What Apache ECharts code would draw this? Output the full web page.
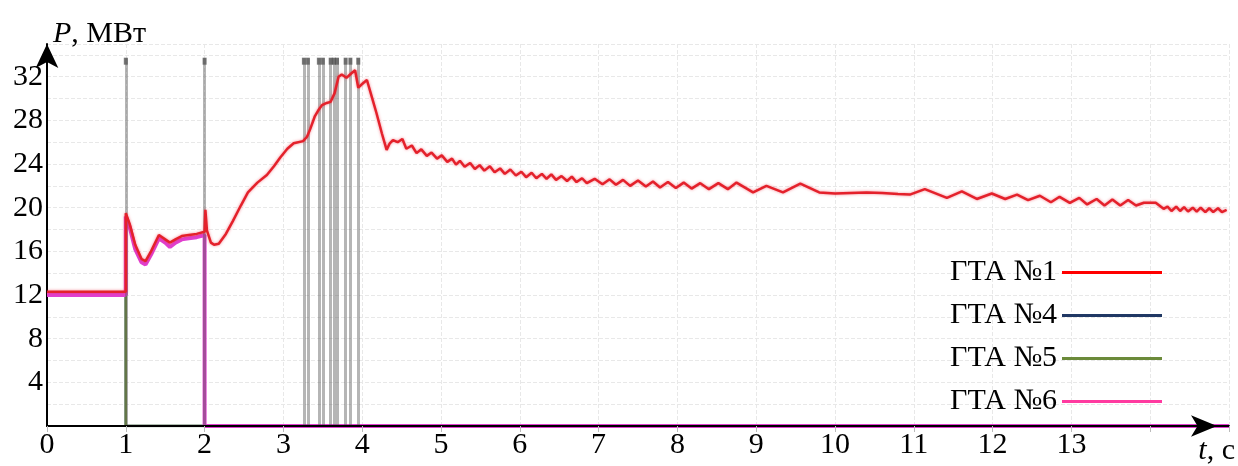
<!DOCTYPE html>
<html>
<head>
<meta charset="utf-8">
<script src="https://cdn.jsdelivr.net/npm/echarts@6/dist/echarts.min.js"></script>
<style>
html,body{margin:0;padding:0;background:#fff;}
#chart{width:1238px;height:466px;}
</style>
</head>
<body>
<div id="chart"></div>
<script>
// ---- data ----
const seriesNames = ['ГТА №1', 'ГТА №4', 'ГТА №5', 'ГТА №6'];
const xTickLabels = [0,1,2,3,4,5,6,7,8,9,10,11,12,13];
const yTickLabels = [4,8,12,16,20,24,28,32];

// ГТА №1 (t, P)
const gta1 = [[0,12.3],[1.0,12.3],[1.0,19.5],[1.05,18.5],[1.12,16.6],[1.2,15.3],[1.25,15.1],[1.32,16.0],[1.42,17.5],[1.5,17.1],[1.56,16.8],[1.63,17.1],[1.71,17.4],[1.8,17.5],[1.9,17.6],[2.0,17.8],[2.01,19.8],[2.03,17.9],[2.08,16.8],[2.12,16.6],[2.18,16.7],[2.27,17.6],[2.36,18.8],[2.46,20.2],[2.55,21.4],[2.67,22.3],[2.79,23.0],[2.88,23.8],[2.96,24.6],[3.05,25.4],[3.13,25.9],[3.25,26.1],[3.30,26.5],[3.34,27.2],[3.40,28.4],[3.45,29.0],[3.49,29.4],[3.55,29.6],[3.60,29.7],[3.65,30.5],[3.70,32.0],[3.74,32.2],[3.80,31.9],[3.86,32.3],[3.91,32.6],[3.95,31.0],[4.01,31.4],[4.06,31.7],[4.12,30.2],[4.18,28.7],[4.25,26.8],[4.31,25.3],[4.35,25.9],[4.39,26.2],[4.45,26.0],[4.51,26.3],[4.56,25.4],[4.63,25.7],[4.69,25.0],[4.75,25.35],[4.82,24.75],[4.88,25.05],[4.95,24.5],[5.01,24.8],[5.08,24.2],[5.14,24.5],[5.19,23.95],[5.24,24.3],[5.30,23.75],[5.37,24.1],[5.43,23.55],[5.49,23.9],[5.55,23.4],[5.62,23.8],[5.68,23.25],[5.75,23.6],[5.81,23.1],[5.88,23.5],[5.95,22.95],[6.02,23.3],[6.08,22.8],[6.15,23.2],[6.21,22.7],[6.28,23.1],[6.34,22.65],[6.40,23.05],[6.46,22.55],[6.53,22.9],[6.60,22.45],[6.66,22.85],[6.72,22.35],[6.79,22.7],[6.85,22.25],[6.95,22.65],[7.05,22.15],[7.14,22.6],[7.22,22.1],[7.31,22.55],[7.40,22.0],[7.50,22.5],[7.60,21.95],[7.69,22.4],[7.78,21.85],[7.88,22.35],[7.98,21.8],[8.08,22.3],[8.18,21.75],[8.29,22.25],[8.40,21.7],[8.52,22.25],[8.64,21.7],[8.75,22.3],[8.96,21.4],[9.13,22.0],[9.34,21.4],[9.56,22.2],[9.80,21.4],[10.0,21.3],[10.2,21.35],[10.4,21.4],[10.6,21.35],[10.8,21.25],[10.95,21.2],[11.14,21.7],[11.42,20.9],[11.61,21.5],[11.80,20.8],[11.99,21.3],[12.16,20.8],[12.31,21.2],[12.45,20.7],[12.60,21.1],[12.74,20.5],[12.85,21.0],[12.98,20.45],[13.10,20.9],[13.20,20.3],[13.32,20.8],[13.42,20.2],[13.52,20.75],[13.62,20.2],[13.72,20.7],[13.82,20.2],[13.92,20.45],[14.07,20.45],[14.17,19.9],[14.22,20.1],[14.27,19.7],[14.33,20.1],[14.38,19.7],[14.43,20.05],[14.48,19.65],[14.54,20.0],[14.59,19.65],[14.64,20.0],[14.70,19.6],[14.75,19.95],[14.80,19.6],[14.86,19.95],[14.91,19.6],[14.97,19.8]];

// ГТА №4
const gta4 = [[0,12.0],[1.0,12.0],[1.0,0],[15,0]];
// ГТА №5
const gta5 = [[0,12.0],[1.0,12.0],[1.0,0],[15,0]];
// ГТА №6
const gta6 = [[0,12.0],[1.0,12.0],[1.0,19.2],[1.05,18.2],[1.12,16.2],[1.2,15.0],[1.25,14.8],[1.32,15.7],[1.42,17.2],[1.5,16.8],[1.56,16.4],[1.63,16.8],[1.71,17.1],[1.8,17.2],[1.9,17.3],[2.0,17.5],[2.0,0],[15,0]];

// switching events (vertical grey marks)
const eventTimes = [1.0, 2.0, 3.26, 3.31, 3.45, 3.50, 3.60, 3.64, 3.68, 3.79, 3.85, 3.95];
const eventTop = 33.7;

// ---- chart ----
const FONT = '"Liberation Serif", "Times New Roman", serif';
const seriesColors = ['#e4212b', '#203864', '#6b8a3a', '#e040d0'];
const legendColors = ['#ff0000', '#203864', '#6b8a3a', '#ff3aa0'];

const chart = echarts.init(document.getElementById('chart'), null, {renderer: 'canvas'});

const xCommon = {type: 'value', min: 0, max: 15, interval: 1};
const option = {
  animation: false,
  backgroundColor: '#fff',
  grid: {left: 47, right: 9, top: 44, bottom: 39, containLabel: false},
  legend: {
    orient: 'vertical',
    right: 71,
    top: 252,
    align: 'right',
    icon: 'rect',
    itemWidth: 100,
    itemHeight: 3,
    itemGap: 12,
    z: 20,
    textStyle: {fontFamily: FONT, fontSize: 30, color: '#000', lineHeight: 31},
    data: seriesNames.map((n, i) => ({name: n, itemStyle: {color: legendColors[i]}}))
  },
  xAxis: [
    Object.assign({}, xCommon, {
      axisLine: {show: false}, axisTick: {show: false}, axisLabel: {show: false},
      splitLine: {show: true, lineStyle: {color: '#e8e8e8', type: 'dashed', width: 1}}
    }),
    Object.assign({}, xCommon, {
      position: 'bottom', z: 10,
      axisLine: {show: true, onZero: false, lineStyle: {color: '#000', width: 2},
        symbol: ['none', 'arrow'], symbolSize: [16, 26], symbolOffset: [0, -12]},
      axisTick: {show: true, length: 6, lineStyle: {color: '#bbb'}},
      axisLabel: {show: true, margin: 4, fontFamily: FONT, fontSize: 30, color: '#000',
        formatter: v => (xTickLabels.indexOf(v) >= 0 ? String(v) : '')},
      splitLine: {show: false},
      name: '{i|t}, c',
      nameLocation: 'end',
      nameGap: 6,
      nameTextStyle: {fontFamily: FONT, fontSize: 30, color: '#000', align: 'right', verticalAlign: 'top',
        padding: [10, 0, 0, 0],
        rich: {i: {fontFamily: FONT, fontSize: 30, fontStyle: 'italic', color: '#000'}}}
    })
  ],
  yAxis: {
    type: 'value', min: 0, max: 35, interval: 2,
    axisLine: {show: true, onZero: false, lineStyle: {color: '#000', width: 2},
      symbol: ['none', 'arrow'], symbolSize: [17, 24], symbolOffset: [0, 0]},
    axisTick: {show: false},
    axisLabel: {margin: 4, fontFamily: FONT, fontSize: 30, color: '#000',
      formatter: v => (yTickLabels.indexOf(v) >= 0 ? String(v) : '')},
    splitLine: {show: true, lineStyle: {color: '#e8e8e8', type: 'dashed', width: 1}},
    name: '{i|P}, МВт',
    nameLocation: 'end',
    nameGap: 10,
    nameTextStyle: {fontFamily: FONT, fontSize: 30, color: '#000', align: 'left', verticalAlign: 'middle',
      padding: [0, 0, 0, 6],
      rich: {i: {fontFamily: FONT, fontSize: 30, fontStyle: 'italic', color: '#000'}}}
  },
  series: [
    {
      type: 'line', name: '__events', xAxisIndex: 0, data: [], z: 1, silent: true,
      markLine: {
        silent: true, symbol: ['none', 'none'], label: {show: false},
        lineStyle: {color: 'rgba(90,90,90,0.45)', width: 3, type: 'solid'},
        data: eventTimes.map(t => [{coord: [t, 0]}, {coord: [t, eventTop]}])
      }
    },
    {
      type: 'scatter', name: '__eventCaps', xAxisIndex: 0, z: 1, silent: true,
      symbol: 'rect', symbolSize: [4, 7], symbolOffset: [0, 3],
      itemStyle: {color: 'rgba(60,60,60,0.85)'},
      data: eventTimes.map(t => [t, eventTop])
    },
    {
      type: 'line', name: seriesNames[1], xAxisIndex: 0, data: gta4, showSymbol: false, z: 2,
      lineStyle: {color: seriesColors[1], width: 2.5}, itemStyle: {color: seriesColors[1]}
    },
    {
      type: 'line', name: seriesNames[2], xAxisIndex: 0, data: gta5, showSymbol: false, z: 3,
      lineStyle: {color: seriesColors[2], width: 2.5}, itemStyle: {color: seriesColors[2]}
    },
    {
      type: 'line', name: seriesNames[3], xAxisIndex: 0, data: gta6, showSymbol: false, z: 4,
      lineStyle: {color: seriesColors[3], width: 4}, itemStyle: {color: seriesColors[3]}
    },
    {
      type: 'line', name: seriesNames[0], xAxisIndex: 0, data: gta1, showSymbol: false, z: 5,
      lineStyle: {color: seriesColors[0], width: 2.5, shadowColor: 'rgba(235,40,60,0.55)', shadowBlur: 3},
      itemStyle: {color: seriesColors[0]}
    }
  ]
};
chart.setOption(option);
</script>
</body>
</html>
